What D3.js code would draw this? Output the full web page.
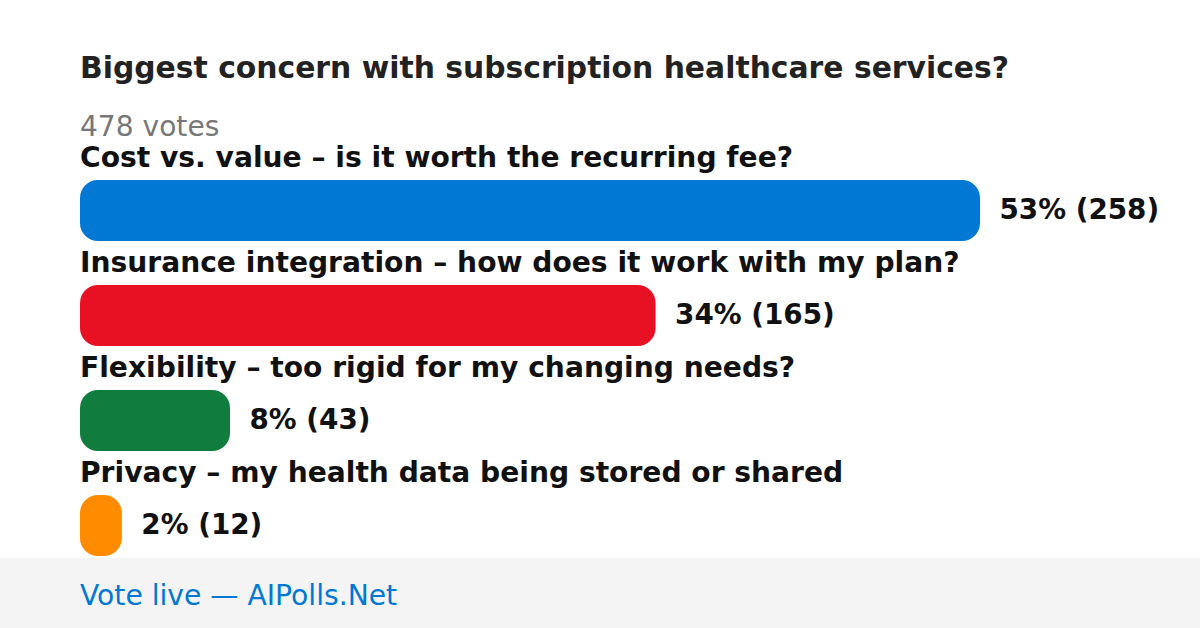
<!DOCTYPE html>
<html><head><meta charset="utf-8">
<script src="https://cdn.jsdelivr.net/npm/d3@7"></script>
<style>html,body{margin:0;padding:0;background:#fff;}svg{display:block;}</style>
</head><body>
<svg id="chart" width="1200" height="628"></svg>
<script>
const title = "Biggest concern with subscription healthcare services?";
const totalVotesLabel = "478 votes";
const categories = [
  "Cost vs. value – is it worth the recurring fee?",
  "Insurance integration – how does it work with my plan?",
  "Flexibility – too rigid for my changing needs?",
  "Privacy – my health data being stored or shared"
];
const votes = [258, 165, 43, 12];
const percents = [53, 34, 8, 2];
const colors = ["#0078d4", "#e81123", "#107c3e", "#ff8c00"];
const footerText = "Vote live — AIPolls.Net";

const svg = d3.select("#chart");
const font = "'DejaVu Sans', sans-serif";
const left = 80;

svg.append("text").attr("x", left).attr("y", 78)
  .attr("font-family", font).attr("font-size", 29.8).attr("font-weight", "bold")
  .attr("fill", "#222").text(title);
svg.append("text").attr("x", left).attr("y", 136)
  .attr("font-family", font).attr("font-size", 28.1)
  .attr("fill", "#777").text(totalVotesLabel);

const x = d3.scaleLinear().domain([0, d3.max(votes)]).range([0, 900]);
const y = d3.scaleBand().domain(d3.range(categories.length)).range([180, 600]).paddingInner(0).paddingOuter(0);
const barH = 61;

const g = svg.append("g");
const rows = g.selectAll("g.row").data(categories).join("g").attr("class", "row");
rows.append("text").attr("x", left).attr("y", (d, i) => y(i) - 13)
  .attr("font-family", font).attr("font-size", 28.15).attr("font-weight", "bold")
  .attr("fill", "#111").text(d => d);
rows.append("rect").attr("x", left).attr("y", (d, i) => y(i))
  .attr("width", (d, i) => x(votes[i])).attr("height", barH)
  .attr("rx", (d, i) => Math.min(18, x(votes[i]) / 2))
  .attr("ry", (d, i) => Math.min(18, x(votes[i]) / 2))
  .attr("fill", (d, i) => colors[i]);
rows.append("text").attr("x", (d, i) => left + x(votes[i]) + 19.5).attr("y", (d, i) => y(i) + barH / 2 + 8.5)
  .attr("font-family", font).attr("font-size", 27.8).attr("font-weight", "bold")
  .attr("fill", "#111").text((d, i) => `${percents[i]}% (${votes[i]})`);

svg.append("rect").attr("x", 0).attr("y", 558).attr("width", 1200).attr("height", 70).attr("fill", "#f4f4f4");
svg.append("text").attr("x", left).attr("y", 604.5)
  .attr("font-family", font).attr("font-size", 28.2)
  .attr("fill", "#0078d4").text(footerText);
</script>
</body></html>
